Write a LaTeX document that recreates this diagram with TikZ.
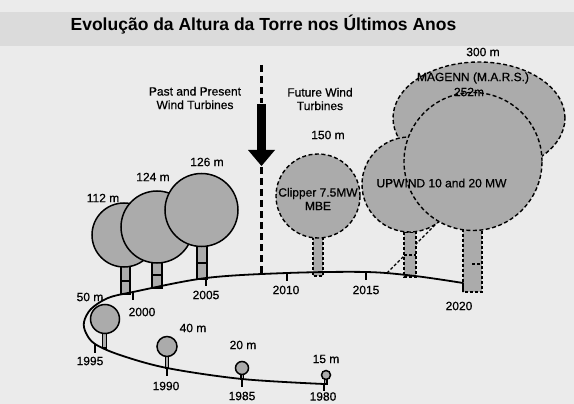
\documentclass[tikz,border=0pt]{standalone}
\usepackage{fontspec}
\setmainfont{Liberation Sans}
\newfontfamily\lblfont[FakeBold=0.6]{Liberation Sans}
\begin{document}
\begin{tikzpicture}[x=1pt,y=-1pt,
  lbl/.style={font=\lblfont\fontsize{12}{13.5}\selectfont, inner sep=0pt, align=center},
  rotorpast/.style={draw=black, line width=1.5pt, fill=black!33},
  rotorfut/.style={draw=black, line width=1.4pt, fill=black!33, dash pattern=on 4pt off 2.5pt},
  towerpast/.style={draw=black, line width=1.2pt, fill=black!33},
  towerfut/.style={draw=black, line width=1.2pt, fill=black!33, dash pattern=on 3pt off 2pt},
  thinfut/.style={draw=black, line width=1.1pt, dash pattern=on 3pt off 2pt},
  timeline/.style={draw=black, line width=1.8pt},
  tickmark/.style={draw=black, line width=1.3pt},
  divider/.style={draw=black, line width=2.4pt, dash pattern=on 7pt off 4pt},
]
\useasboundingbox (0,0) rectangle (574,404);
\fill[black!8] (0,0) rectangle (574,404);
\fill[black!14] (0,12) rectangle (574,46);

% title
\node[font=\fontsize{17.5}{20}\selectfont\bfseries, inner sep=0pt] (title) at (263.5,25) {Evolução da Altura da Torre nos Últimos Anos};

% divider and arrow
\coordinate (dtop) at (261.5,65);
\coordinate (dmid) at (261.5,103);
\coordinate (dlow) at (261.5,167);
\coordinate (dbot) at (261.5,273);
\draw[divider] (dtop) -- (dmid);
\draw[divider] (dlow) -- (dbot);
\fill[black] (257,104) rectangle (266,151);
\fill[black] (248,150) -- (275,150) -- (261.5,166) -- cycle;

\node[lbl] (past) at (195,98) {Past and Present\\Wind Turbines};
\node[lbl] (future) at (320,99) {Future Wind\\Turbines};

% timeline points
\coordinate (y1980) at (324,384);
\coordinate (y1985) at (242,379);
\coordinate (y1990) at (167,368);
\coordinate (q1) at (120,355);
\coordinate (y1995) at (95,344);
\coordinate (q2) at (86,333);
\coordinate (q3) at (84,322);
\coordinate (q4) at (91,309);
\coordinate (q5) at (108,298);
\coordinate (y2000) at (133,292);
\coordinate (y2005) at (206,278);
\coordinate (y2010) at (287,273);
\coordinate (y2015) at (366,272);
\coordinate (q6) at (415,276);
\coordinate (y2020) at (463,283);
\coordinate (y2020b) at (463,292);

% future turbines: towers
\draw[thinfut] (387,273) -- (437,223);
\draw[towerfut] (313,237) rectangle (323,276);
\draw[towerfut] (404,232) rectangle (416,277);
\draw[thinfut] (404,255) -- (416,255);
\draw[towerfut] (463,229) rectangle (482,292);
\draw[thinfut] (472,264) -- (482,264);

% future rotors
\draw[rotorfut] (318,196) circle[radius=42pt];
\draw[rotorfut] (479,118) ellipse[x radius=86pt, y radius=56pt];
\draw[rotorfut] (409.5,184.5) circle[radius=47.5pt];
\draw[rotorfut] (473,161.5) circle[radius=69pt];

% past towers
\draw[towerpast] (121,266) rectangle (130,294);
\draw[tickmark] (121,281) -- (130,281);
\draw[towerpast] (152,262) rectangle (162,288);
\draw[tickmark] (152,275) -- (162,275);
\draw[towerpast] (197,246) rectangle (207,279);
\draw[tickmark] (197,263) -- (207,263);
\draw[towerpast] (102.5,332) rectangle (106.5,348);
\draw[towerpast] (165.5,356) rectangle (168.5,368);
\draw[towerpast] (241,374) rectangle (243.5,379);
\draw[towerpast] (324.5,379) rectangle (327,384);

% past rotors
\draw[rotorpast] (124,235) circle[radius=32pt];
\draw[rotorpast] (157,227) circle[radius=36pt];
\draw[rotorpast] (201.5,210) circle[radius=36.5pt];
\draw[rotorpast] (105,319) circle[radius=14.5pt];
\draw[rotorpast] (167,346.5) circle[radius=10pt];
\draw[rotorpast] (242,368) circle[radius=6.5pt];
\draw[rotorpast] (326,375) circle[radius=4.5pt];

% timeline
\draw[timeline, line join=round] plot[smooth, tension=0.55] coordinates {(y1980) (y1985) (y1990) (q1) (y1995) (q2) (q3) (q4) (q5) (y2000) (y2005) (y2010) (y2015) (q6) (y2020)} -- (y2020b);
\draw[tickmark] (y1980) -- ++(0,7);
\draw[tickmark] (y1985) -- ++(0,8);
\draw[tickmark] (y1990) -- ++(0,8);
\draw[tickmark] (y1995) -- ++(0,9);
\draw[tickmark] (y2000) -- ++(0,8);
\draw[tickmark] (y2005) -- ++(0,8);
\draw[tickmark] (y2010) -- ++(0,8);
\draw[tickmark] (y2015) -- ++(0,8);

% year labels
\node[lbl] (l1980) at (323,396.5) {1980};
\node[lbl] (l1985) at (242,396) {1985};
\node[lbl] (l1990) at (166,386) {1990};
\node[lbl] (l1995) at (90,361) {1995};
\node[lbl] (l2000) at (142,312) {2000};
\node[lbl] (l2005) at (206,295) {2005};
\node[lbl] (l2010) at (286,290) {2010};
\node[lbl] (l2015) at (366,290) {2015};
\node[lbl] (l2020) at (459,306) {2020};

% height labels
\node[lbl] (h15) at (326,359) {15 m};
\node[lbl] (h20) at (243,345) {20 m};
\node[lbl] (h40) at (193,328) {40 m};
\node[lbl] (h50) at (90,297) {50 m};
\node[lbl] (h112) at (103,198) {112 m};
\node[lbl] (h124) at (153,177) {124 m};
\node[lbl] (h126) at (207,162) {126 m};
\node[lbl] (h150) at (328,135) {150 m};
\node[lbl] (h300) at (483,52) {300 m};

% names
\node[lbl] (clipper) at (318,199) {Clipper 7.5MW\\MBE};
\node[lbl] (upwind) at (441.5,183) {UPWIND 10 and 20 MW};
\node[lbl] (magenn) at (473,78) {MAGENN (M.A.R.S.)};
\node[lbl] (h252) at (469,92) {252m};
\end{tikzpicture}
\end{document}
